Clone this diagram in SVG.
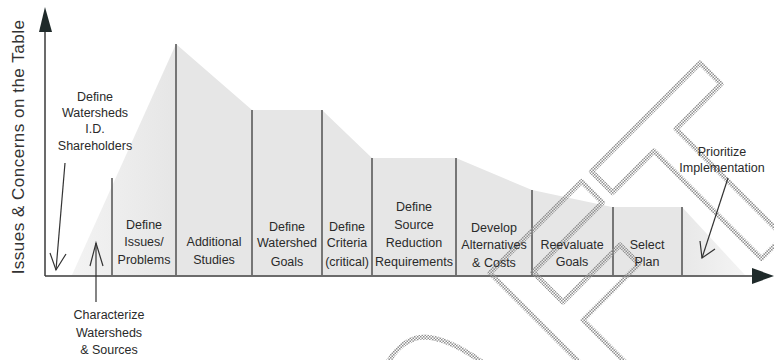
<svg xmlns="http://www.w3.org/2000/svg" width="774" height="360" viewBox="0 0 774 360">
<defs>
<style>
text{font-family:"Liberation Sans",Arial,sans-serif;font-size:12.5px;fill:#2a2a2a;text-anchor:middle}
.ax{stroke:#3a3a3a;stroke-width:1.5;fill:none}
.div{stroke:#505050;stroke-width:1.5}
.arr{stroke:#333;stroke-width:1.2;fill:none}
.ttl{font-size:17px;letter-spacing:0.5px;fill:#333}
.wm{fill:none;stroke:url(#chk);stroke-width:5;stroke-linejoin:round}
</style>
<linearGradient id="lg" x1="72" y1="0" x2="176" y2="0" gradientUnits="userSpaceOnUse">
<stop offset="0" stop-color="#f3f3f3"/>
<stop offset="1" stop-color="#e6e6e6"/>
</linearGradient>
<linearGradient id="rg" x1="682" y1="0" x2="745" y2="0" gradientUnits="userSpaceOnUse">
<stop offset="0" stop-color="#e8e8e8"/>
<stop offset="1" stop-color="#f4f4f4"/>
</linearGradient>
<pattern id="chk" width="3" height="3" patternUnits="userSpaceOnUse">
<rect width="1.5" height="1.5" fill="#909090"/>
<rect x="1.5" y="1.5" width="1.5" height="1.5" fill="#909090"/>
</pattern>
</defs>
<rect width="774" height="360" fill="#ffffff"/>
<g id="area">
<polygon points="176,44 252,110 322,110 372,158 456,158 532,190 612,207 682,207 682,275 176,275" fill="#e6e6e6"/>
<polygon points="72,275 176,44 176,275" fill="url(#lg)"/>
<polygon points="682,207 745,275 682,275" fill="url(#rg)"/>
</g>
<g id="dividers">
<line class="div" x1="112" y1="178" x2="112" y2="275"/>
<line class="div" x1="176" y1="44" x2="176" y2="275"/>
<line class="div" x1="252" y1="110" x2="252" y2="275"/>
<line class="div" x1="322" y1="110" x2="322" y2="275"/>
<line class="div" x1="372" y1="158" x2="372" y2="275"/>
<line class="div" x1="456" y1="158" x2="456" y2="275"/>
<line class="div" x1="532" y1="190" x2="532" y2="275"/>
<line class="div" x1="613" y1="207" x2="613" y2="275"/>
<line class="div" x1="682" y1="207" x2="682" y2="275"/>
</g>
<g id="axes">
<line class="ax" x1="45" y1="276" x2="45" y2="30"/>
<polygon points="45,7 39,32 52,32" fill="#1f2a2a"/>
<line class="ax" x1="45" y1="276" x2="754" y2="276"/>
<polygon points="774,276 752,268 752,284" fill="#1f2a2a"/>
<text class="ttl" transform="translate(24,147) rotate(-90)">Issues &amp; Concerns on the Table</text>
</g>
<g id="watermark">
<polygon class="wm" points="591.5,171.5 700,63 721,84 676,129 783.5,236.5 761.5,258.5 654,151 612.5,192.5"/>
<polygon class="wm" points="490,273 581.5,181.5 602.5,202.5 533,272 563,302 620,245 639,264 583,320 706.5,443.5 683.5,466.5"/>
<path class="wm" d="M388,362 C398,346 410,337 425,337 C445,338 465,350 482,362"/>
</g>
<g id="connectors">
<line class="arr" x1="65" y1="163" x2="56" y2="270"/>
<polyline class="arr" points="50,253 56,270 66,254"/>
<line class="arr" x1="96" y1="302" x2="96" y2="243"/>
<polyline class="arr" points="90,266 96,243 103,266"/>
<line class="arr" x1="728" y1="178" x2="702" y2="258"/>
<polyline class="arr" points="700,241 702,258 715,249"/>
</g>
<g id="n-define-watersheds">
<text x="95" y="101">Define</text>
<text x="95" y="117">Watersheds</text>
<text x="95" y="133">I.D.</text>
<text x="95" y="150">Shareholders</text>
</g>
<g id="n-characterize">
<text x="109" y="319">Characterize</text>
<text x="109" y="337">Watersheds</text>
<text x="109" y="354">&amp; Sources</text>
</g>
<g id="n-issues">
<text x="144" y="229">Define</text>
<text x="144" y="246">Issues/</text>
<text x="144" y="264">Problems</text>
</g>
<g id="n-studies">
<text x="214" y="246">Additional</text>
<text x="214" y="264">Studies</text>
</g>
<g id="n-goals">
<text x="287" y="231">Define</text>
<text x="287" y="247">Watershed</text>
<text x="287" y="266">Goals</text>
</g>
<g id="n-criteria">
<text x="347" y="231">Define</text>
<text x="347" y="247">Criteria</text>
<text x="347" y="266">(critical)</text>
</g>
<g id="n-source">
<text x="414" y="211">Define</text>
<text x="414" y="229">Source</text>
<text x="414" y="247">Reduction</text>
<text x="414" y="266">Requirements</text>
</g>
<g id="n-alternatives">
<text x="494" y="232">Develop</text>
<text x="494" y="249">Alternatives</text>
<text x="494" y="267">&amp; Costs</text>
</g>
<g id="n-reevaluate">
<text x="572" y="249">Reevaluate</text>
<text x="572" y="266">Goals</text>
</g>
<g id="n-select">
<text x="647" y="249">Select</text>
<text x="647" y="266">Plan</text>
</g>
<g id="n-prioritize">
<text x="722" y="156">Prioritize</text>
<text x="722" y="172">Implementation</text>
</g>
</svg>
